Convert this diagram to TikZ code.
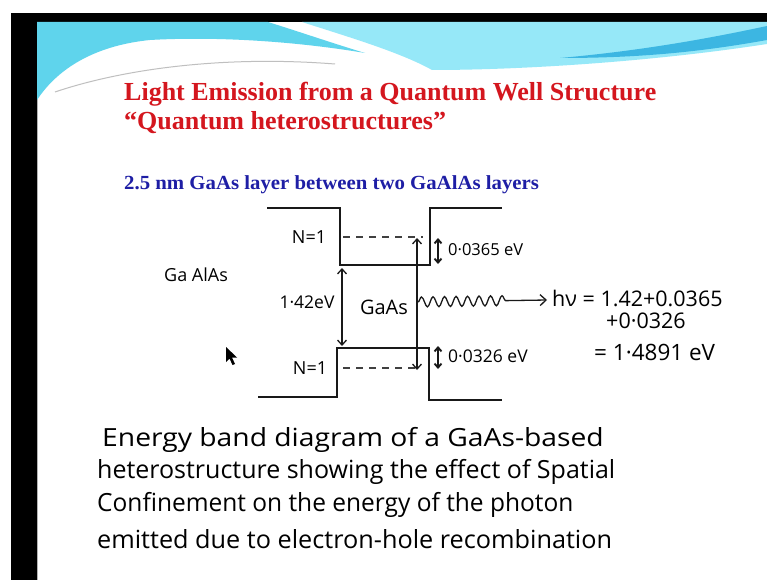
\documentclass[tikz,border=0pt]{standalone}
\usepackage{fontspec}
\setmainfont{Liberation Serif}
\newfontfamily\hand{Open Sans}
\usetikzlibrary{arrows.meta,decorations.pathmorphing}
\definecolor{ttlred}{RGB}{212,22,30}
\definecolor{subblue}{RGB}{30,30,165}
\definecolor{cyanA}{RGB}{95,212,236}
\definecolor{cyanB}{RGB}{150,232,248}
\definecolor{cyanC}{RGB}{60,182,226}
\newcommand\hs[1]{\hand\fontsize{#1}{#1}\selectfont}
\begin{document}
\begin{tikzpicture}[x=1pt,y=-1pt,
  band/.style={line width=2.2pt, draw=black!90},
  lvl/.style={line width=1.8pt, dash pattern=on 7pt off 6pt, draw=black!75},
  arr/.style={line width=1.3pt, draw=black!90, {Straight Barb[length=5pt,width=9pt]}-{Straight Barb[length=5pt,width=9pt]}},
  sarr/.style={line width=1.9pt, draw=black!90, {Straight Barb[length=4pt,width=7pt]}-{Straight Barb[length=4pt,width=7pt]}},
  lab/.style={inner sep=0pt, text=black},
  ttl/.style={inner sep=0pt, text=ttlred, font=\bfseries\fontsize{26}{26}\selectfont},
  sub/.style={inner sep=0pt, text=subblue, font=\bfseries\fontsize{20}{20}\selectfont},
]
\useasboundingbox (0,0) rectangle (767,580);
\fill[white] (0,0) rectangle (767,580);
% slide frame
\fill[black] (11,13) rectangle (767,22);
\fill[black] (11,13) rectangle (37,580);
\draw[black!30, line width=1pt] (37.5,22) -- (37.5,580);
% cyan header waves
\fill[cyanA] (37,22) -- (268,22) .. controls (300,32) and (335,44) .. (365,53)
  .. controls (300,42) and (220,36) .. (150,40) .. controls (100,45) and (60,65) .. (37,100) -- cycle;
\fill[cyanB] (302,22) -- (767,22) -- (767,44) .. controls (650,62) and (520,70) .. (432,70)
  .. controls (400,52) and (345,36) .. (302,22) -- cycle;
\fill[cyanC] (560,58) .. controls (650,50) and (720,36) .. (767,26) -- (767,40)
  .. controls (700,52) and (640,58) .. (560,58) -- cycle;
\draw[black!25, line width=1pt] (55,92) .. controls (120,70) and (220,55) .. (335,64);
% titles
\node[ttl, anchor=base west] (t1) at (124,101) {Light Emission from a Quantum Well Structure};
\node[ttl, anchor=base west] (t2) at (124,130) {“Quantum heterostructures”};
\node[sub, anchor=base west] (st) at (124,189) {\scalebox{1.04}[1]{2.5 nm GaAs layer between two GaAlAs layers}};
% band edges
\draw[band] (267,208) -- (340,208) -- (340,265) -- (430,265) -- (430,208) -- (502,208);
\draw[band] (258,397) -- (337,397) -- (337,348) -- (429,348) -- (429,400) -- (502,400);
% confined levels
\draw[lvl] (343,237) -- (423,237);
\draw[lvl] (343,368) -- (415,368);
% arrows
\coordinate (gT) at (342,268); \coordinate (gB) at (342,346);
\draw[arr] (gT) -- (gB);
\coordinate (eT) at (417,238); \coordinate (eB) at (417,370);
\draw[arr] (eT) -- (eB);
\coordinate (cT) at (438,238); \coordinate (cB) at (438,264);
\draw[sarr] (cT) -- (cB);
\coordinate (vT) at (438,346); \coordinate (vB) at (438,369);
\draw[sarr] (vT) -- (vB);
\coordinate (w0) at (418,302); \coordinate (w1) at (547,300);
\draw[line width=1.3pt, draw=black!90, -{Straight Barb[length=6pt,width=11pt]},
  decoration={snake, segment length=11.5pt, amplitude=5pt, post length=36pt}, decorate] (w0) -- (w1);
% labels
\node[lab, font=\hs{18}] (n1) at (309,237) {N=1};
\node[lab, font=\hs{18}] (n2) at (310,368) {N=1};
\node[lab, font=\hs{17.5}] (eg) at (307,302) {1·42eV};
\node[lab, font=\hs{20}] (ga) at (384,307) {GaAs};
\node[lab, font=\hs{18}] (gal) at (196,275) {Ga AlAs};
\node[lab, font=\hs{16.5}, anchor=west] (de) at (448,250) {0·0365 eV};
\node[lab, font=\hs{17.5}, anchor=west] (dh) at (448,356) {0·0326 eV};
\node[lab, font=\hs{21.5}, anchor=west] (hv) at (552,298) {hν = 1.42+0.0365};
\node[lab, font=\hs{21.5}, anchor=west] (p2) at (606,321) {+0·0326};
\node[lab, font=\hs{22.5}, anchor=west] (res) at (594,352) {= 1·4891 eV};
% cursor
\fill[black] (226,347) -- (226,362) -- (229.5,358.5) -- (232.5,365) -- (235,364) -- (232,357.5) -- (237,357.5) -- cycle;
% caption
\node[lab, font=\hs{25}, anchor=base west] (c1) at (102,446) {\scalebox{1.13}[1]{Energy band diagram of a GaAs-based}};
\node[lab, font=\hs{25}, anchor=base west] (c2) at (97,478) {heterostructure showing the effect of Spatial};
\node[lab, font=\hs{25}, anchor=base west] (c3) at (97,511) {\scalebox{0.98}[1]{Confinement on the energy of the photon}};
\node[lab, font=\hs{25}, anchor=base west] (c4) at (97,548) {\scalebox{1.01}[1]{emitted due to electron-hole recombination}};
\end{tikzpicture}
\end{document}
